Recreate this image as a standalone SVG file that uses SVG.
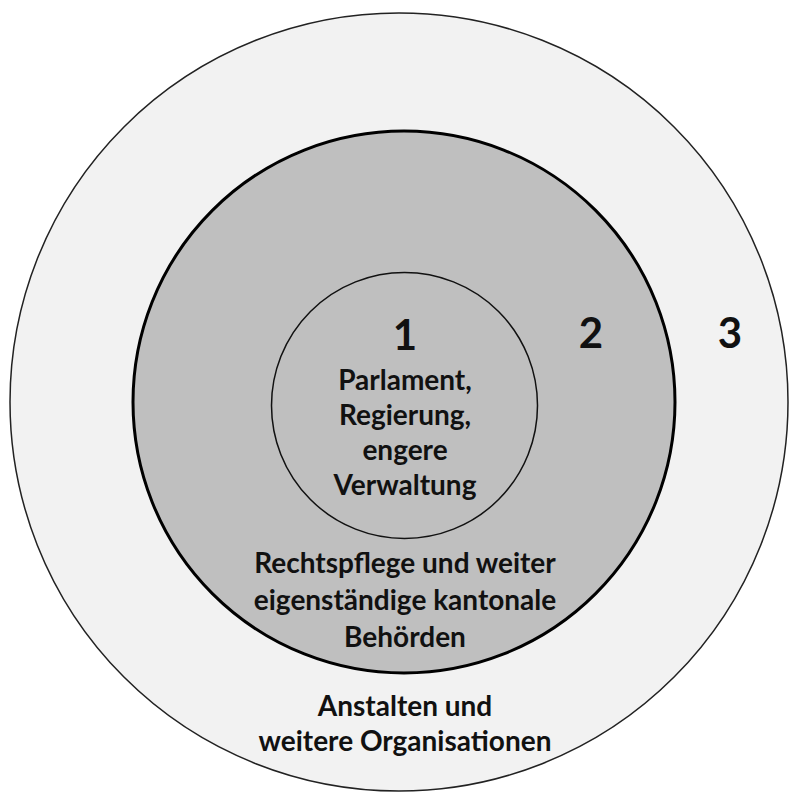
<svg xmlns="http://www.w3.org/2000/svg" width="790" height="794" viewBox="0 0 790 794">
<style>
.t{font-family:Lato,"Open Sans","Liberation Sans",sans-serif;font-weight:bold;fill:#111;text-anchor:middle}
.b{font-size:28px}
.n{font-size:42px}
</style>
<rect width="790" height="794" fill="#ffffff"/>
<g id="ring3">
<circle cx="399" cy="402" r="389" fill="#f2f2f2" stroke="#222" stroke-width="1.5"/>
</g>
<g id="ring2">
<circle cx="404" cy="402" r="271" fill="#bfbfbf" stroke="#000" stroke-width="3"/>
</g>
<g id="ring1">
<circle cx="404.5" cy="405.5" r="133" fill="#bfbfbf" stroke="#111" stroke-width="1.5"/>
</g>
<g id="labels">
<text class="t n" x="405" y="350">1</text>
<text class="t n" x="591" y="348">2</text>
<text class="t n" x="730" y="348">3</text>
<text class="t b" x="405" y="390">Parlament,</text>
<text class="t b" x="405" y="425">Regierung,</text>
<text class="t b" x="405" y="460">engere</text>
<text class="t b" x="405" y="495">Verwaltung</text>
<text class="t b" x="405" y="573">Rechtspflege und weiter</text>
<text class="t b" x="405" y="610">eigenständige kantonale</text>
<text class="t b" x="405" y="647">Behörden</text>
<text class="t b" x="405" y="716">Anstalten und</text>
<text class="t b" x="405" y="751">weitere Organisationen</text>
</g>
</svg>
